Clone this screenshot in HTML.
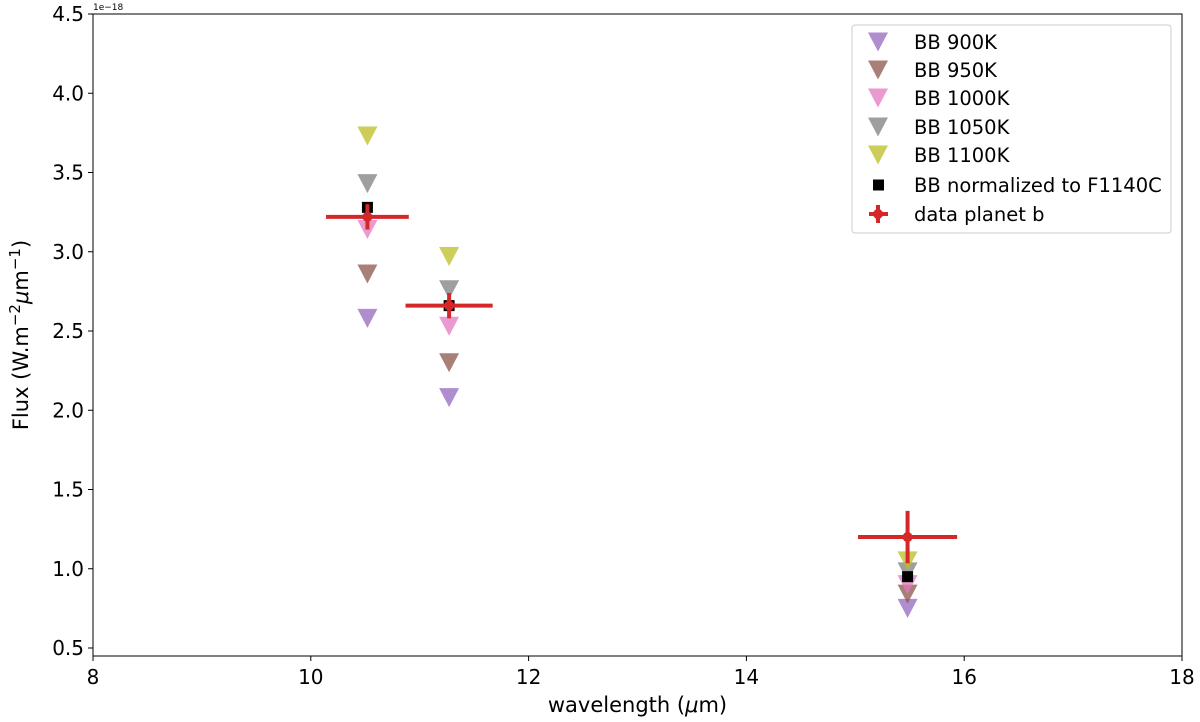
<!DOCTYPE html>
<html><head><meta charset="utf-8"><style>
html,body{margin:0;padding:0;background:#fff;}
svg{display:block;font-family:"DejaVu Sans","Liberation Sans",sans-serif;}
</style></head><body>
<svg id="chart" width="1200" height="722" viewBox="0 0 1200 722" xmlns="http://www.w3.org/2000/svg"></svg>
<script>
const wavelengths = [10.52, 11.27, 15.48];
const bb900 = [2.58, 2.08, 0.75];
const bb950 = [2.86, 2.30, 0.84];
const bb1000 = [3.14, 2.53, 0.90];
const bb1050 = [3.43, 2.76, 0.98];
const bb1100 = [3.73, 2.97, 1.05];
const bbNorm = [3.28, 2.66, 0.95];
const dataFlux = [3.22, 2.66, 1.20];
const dataXerr = [0.38, 0.40, 0.455];
const dataYerr = [0.08, 0.08, 0.165];
const xTicks = [8, 10, 12, 14, 16, 18];
const yTicks = [0.5, 1.0, 1.5, 2.0, 2.5, 3.0, 3.5, 4.0, 4.5];
const seriesNames = ["BB 900K","BB 950K","BB 1000K","BB 1050K","BB 1100K"];
const seriesColors = ["#9467bd","#8c564b","#e377c2","#7f7f7f","#bcbd22"];

const svg = document.getElementById('chart');
const NS = "http://www.w3.org/2000/svg";
const L = 93, R = 1182, T = 14, B = 656;
const X = v => L + (v - 8) / 10 * (R - L);
const Y = v => 648 - (v - 0.5) * 158.5;
function mk(tag, attrs, parent) {
  const e = document.createElementNS(NS, tag);
  for (const k in attrs) e.setAttribute(k, attrs[k]);
  (parent || svg).appendChild(e);
  return e;
}
function tri(cx, cy, color, parent) {
  return mk('polygon', {points: `${cx-10},${cy-9.5} ${cx+10},${cy-9.5} ${cx},${cy+9.5}`, fill: color, 'fill-opacity': 0.75}, parent);
}
const frame = mk('rect', {x: L, y: T, width: R - L, height: B - T, fill: 'none', stroke: '#000', 'stroke-width': 1});


xTicks.forEach(t => {
  const g = mk('g', {});
  
  
  mk('line', {x1: X(t), x2: X(t), y1: B, y2: B + 5, stroke: '#000'}, g);
  const tx = mk('text', {x: X(t), y: B + 28, 'font-size': 20, 'text-anchor': 'middle'}, g);
  tx.textContent = t;
});
yTicks.forEach(t => {
  const g = mk('g', {});
  
  
  mk('line', {x1: L - 5, x2: L, y1: Y(t), y2: Y(t), stroke: '#000'}, g);
  const tx = mk('text', {x: L - 9, y: Y(t) + 7, 'font-size': 20, 'text-anchor': 'end'}, g);
  tx.textContent = t.toFixed(1);
});
const off = mk('text', {x: L, y: 10, 'font-size': 9});
off.textContent = '1e\u221218';


const xl = mk('text', {x: (L + R) / 2, y: 712, 'font-size': 21, 'text-anchor': 'middle'});
xl.innerHTML = 'wavelength (<tspan font-style="italic">μ</tspan>m)';


const yl = mk('text', {x: 0, y: 0, 'font-size': 21, 'text-anchor': 'middle', transform: `translate(28,${(T + B) / 2}) rotate(-90)`});
yl.innerHTML = 'Flux (W.m<tspan dy="-8" font-size="15">−2</tspan><tspan dy="8" font-style="italic">μ</tspan>m<tspan dy="-8" font-size="15">−1</tspan><tspan dy="8">)</tspan>';


const allSeries = [bb900, bb950, bb1000, bb1050, bb1100];
allSeries.forEach((s, i) => {
  const g = mk('g', {});
  
  
  s.forEach((v, j) => {
    const p = tri(X(wavelengths[j]), Y(v), seriesColors[i], g);
    
    
  });
});
const gn = mk('g', {});


bbNorm.forEach((v, j) => {
  const r = mk('rect', {x: X(wavelengths[j]) - 5.5, y: Y(v) - 5.5, width: 11, height: 11, fill: '#000'}, gn);
  
  
});
const gd = mk('g', {});


dataFlux.forEach((v, j) => {
  const cx = X(wavelengths[j]), cy = Y(v);
  const g = mk('g', {}, gd);
  
  
  mk('line', {x1: X(wavelengths[j] - dataXerr[j]), x2: X(wavelengths[j] + dataXerr[j]), y1: cy, y2: cy, stroke: '#d62728', 'stroke-width': 4}, g);
  mk('line', {x1: cx, x2: cx, y1: Y(v + dataYerr[j]), y2: Y(v - dataYerr[j]), stroke: '#d62728', 'stroke-width': 4}, g);
  mk('circle', {cx: cx, cy: cy, r: 5, fill: '#d62728'}, g);
});
const lg = mk('g', {});


mk('rect', {x: 852, y: 25, width: 319, height: 208, rx: 3, fill: '#fff', 'fill-opacity': 0.8, stroke: '#ccc'}, lg);
const legendYs = [42, 70, 98, 127, 155, 185, 214];
const legendLabels = seriesNames.concat(["BB normalized to F1140C", "data planet b"]);
legendLabels.forEach((name, i) => {
  const g = mk('g', {}, lg);
  
  
  const y = legendYs[i];
  if (i < 5) tri(878, y, seriesColors[i], g);
  else if (i === 5) mk('rect', {x: 873, y: y - 5.5, width: 11, height: 11, fill: '#000'}, g);
  else {
    mk('line', {x1: 869, x2: 888, y1: y, y2: y, stroke: '#d62728', 'stroke-width': 4}, g);
    mk('line', {x1: 878, x2: 878, y1: y - 9, y2: y + 9, stroke: '#d62728', 'stroke-width': 4}, g);
    mk('circle', {cx: 878, cy: y, r: 5, fill: '#d62728'}, g);
  }
  const t = mk('text', {x: 914, y: y + 7, 'font-size': 19.5}, g);
  t.textContent = name;
});
</script>
</body></html>
